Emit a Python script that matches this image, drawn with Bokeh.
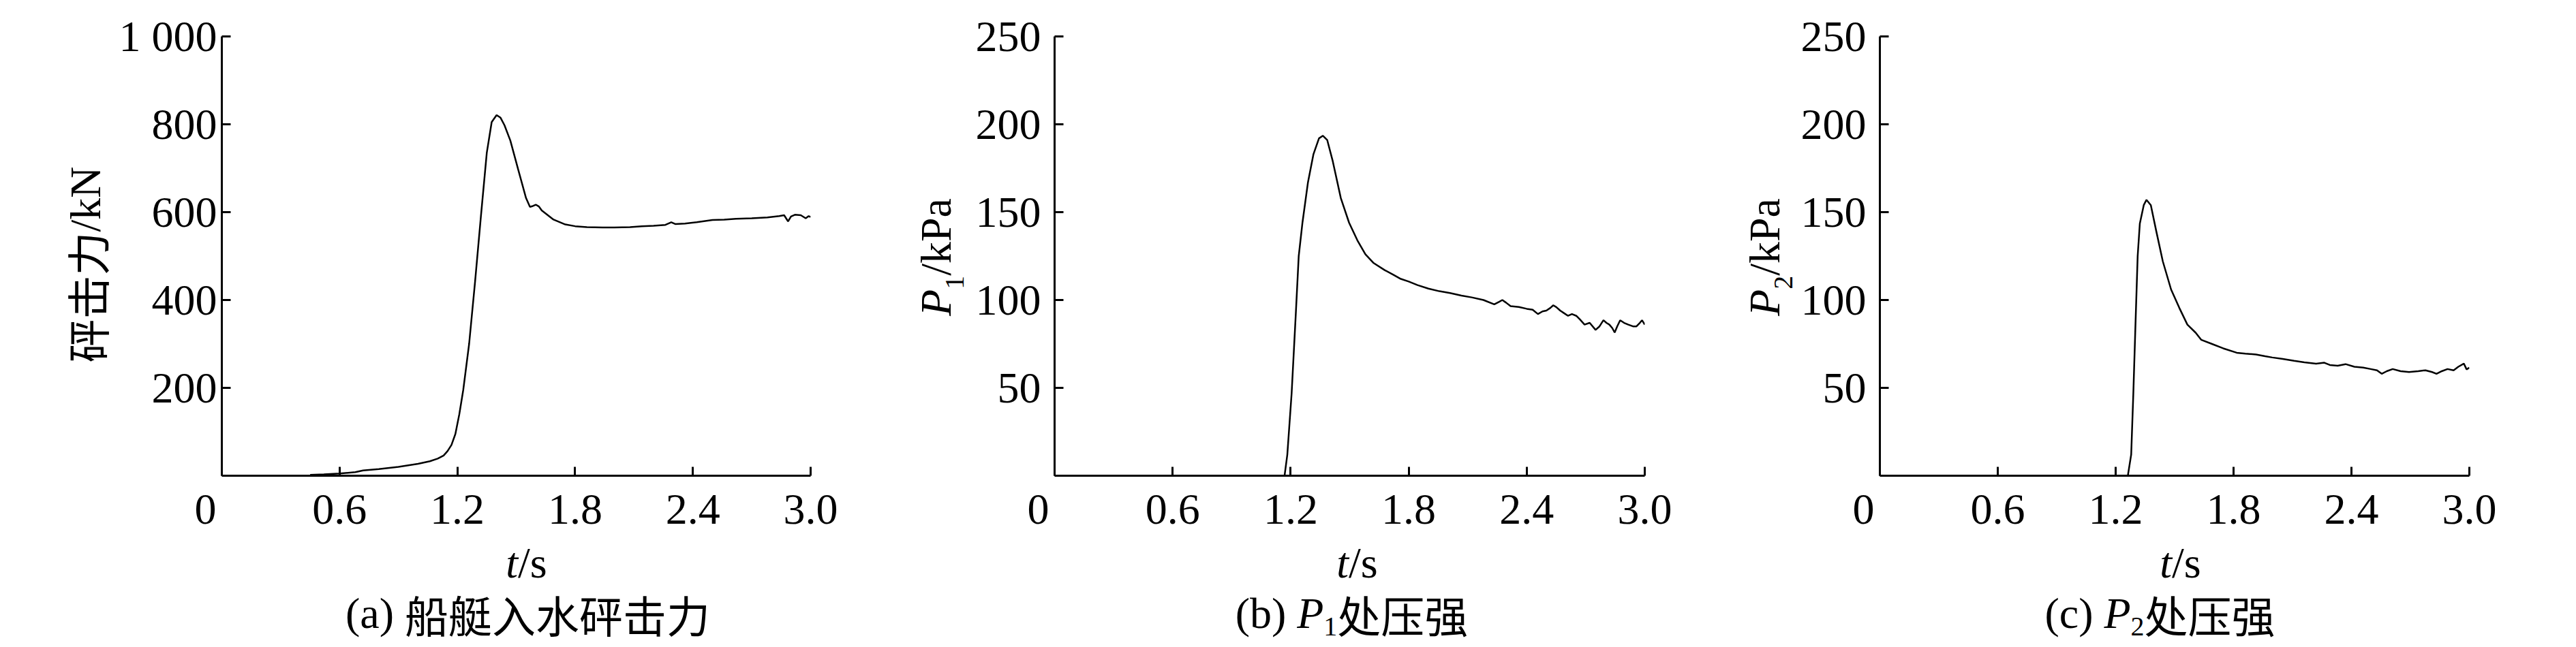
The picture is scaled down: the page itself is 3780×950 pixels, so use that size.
import math
from bokeh.plotting import figure
from bokeh.layouts import row, column
from bokeh.models import Range1d, FixedTicker
from bokeh.core.properties import value
from bokeh.embed import file_html
from bokeh.resources import INLINE

# ---------------- data ----------------
t_a = [0.45, 0.52, 0.60, 0.68, 0.72, 0.80, 0.90, 1.00, 1.06, 1.10,
       1.13, 1.15, 1.17, 1.19, 1.21, 1.23, 1.26, 1.29, 1.32, 1.35,
       1.375, 1.40, 1.42, 1.44, 1.47, 1.51, 1.55, 1.57, 1.585, 1.60,
       1.615, 1.63, 1.65, 1.69, 1.75, 1.80, 1.86, 1.94, 2.00, 2.08,
       2.14, 2.20, 2.26, 2.29, 2.31, 2.36, 2.42, 2.50, 2.56, 2.62,
       2.70, 2.78, 2.84, 2.865, 2.885, 2.90, 2.92, 2.95, 2.975, 2.99, 3.00]
force_a = [2, 3, 5, 8, 12, 15, 20, 27, 33, 39,
           46, 56, 70, 95, 140, 195, 300, 440, 590, 735,
           805, 821, 815, 798, 763, 697, 632, 612, 614, 617,
           613, 604, 597, 583, 572, 568, 566, 565, 565, 566,
           568, 569, 571, 577, 573, 574, 577, 582, 583, 585,
           586, 588, 591, 593, 579, 590, 594, 593, 586, 591, 589]

t_b = [1.169, 1.183, 1.205, 1.227, 1.241, 1.26, 1.288, 1.316, 1.344, 1.364,
       1.386, 1.414, 1.455, 1.497, 1.539, 1.58, 1.622, 1.678, 1.72, 1.76,
       1.80, 1.845, 1.90, 1.956, 2.01, 2.068, 2.12, 2.18, 2.235, 2.26,
       2.276, 2.295, 2.318, 2.36, 2.40, 2.43, 2.457, 2.48, 2.5, 2.52,
       2.535, 2.55, 2.57, 2.59, 2.61, 2.63, 2.652, 2.67, 2.694, 2.72,
       2.75, 2.77, 2.79, 2.805, 2.82, 2.835, 2.847, 2.86, 2.875, 2.895,
       2.916, 2.94, 2.958, 2.975, 2.986, 3.0]
p1 = [0, 12, 47, 94, 125, 144, 167, 183, 192, 193.5,
      191, 179, 158, 144, 134, 126, 121, 117, 114.5, 112,
      110.5, 108.5, 106.5, 105, 104, 102.5, 101.5, 100, 97.5, 99,
      100, 98.5, 96.5, 96, 95, 94.5, 92, 93.5, 94, 95.5,
      97, 96, 94, 92.5, 91, 92, 91, 89, 86, 87,
      83, 85, 88.5, 87, 86, 84, 81.5, 85, 88.5, 87,
      86, 85, 85, 87, 88.5, 86]

t_c = [1.262, 1.279, 1.29, 1.30, 1.312, 1.323, 1.343, 1.357, 1.379, 1.407,
       1.44, 1.482, 1.524, 1.565, 1.607, 1.635, 1.69, 1.747, 1.816, 1.86,
       1.914, 1.96, 1.997, 2.05, 2.108, 2.16, 2.22, 2.262, 2.29, 2.33,
       2.37, 2.415, 2.46, 2.498, 2.53, 2.554, 2.58, 2.61, 2.65, 2.693,
       2.74, 2.777, 2.81, 2.833, 2.86, 2.889, 2.92, 2.944, 2.972, 2.986, 3.0]
p2 = [0, 12, 47, 83, 125, 143.5, 154, 157, 154, 139,
      122, 106, 95.5, 86, 81.4, 77.4, 75, 72.5, 70, 69.5,
      69, 68, 67.3, 66.5, 65.4, 64.5, 63.8, 64.3, 63, 62.6,
      63.5, 62, 61.5, 60.7, 60, 58, 59.5, 60.7, 59.5, 59,
      59.5, 60, 59, 58, 59.5, 60.7, 60, 62, 63.8, 60.5, 61.5]

x_ticks = [0, 0.6, 1.2, 1.8, 2.4, 3]
x_tick_labels = ["0\u00a0\u00a0\u00a0", "0.6", "1.2", "1.8", "2.4", "3.0"]
ya_ticks = [200, 400, 600, 800, 1000]
ya_tick_labels = ["200", "400", "600", "800", "1 000"]
yp_ticks = [50, 100, 150, 200, 250]
yp_tick_labels = ["50", "100", "150", "200", "250"]

# ---------------- style ----------------
SERIF = "Liberation Serif"
CJK = "Noto Sans CJK SC"
FS = 64
SUB = 40
FRAME_H = 645
TOP = 53
MAIN_H = 786
BOT_H = 162
COMP = 0.31   # renderer places the alphabetic baseline ~0.31 em lower

W_REG = {'(': 0.333, ')': 0.333, 'a': 0.444, 'b': 0.5, 'c': 0.444, ' ': 0.25,
         '/': 0.278, 'k': 0.5, 'N': 0.722, 'P': 0.556, 's': 0.389, '1': 0.5, '2': 0.5}
W_IT = {'P': 0.611, 't': 0.278}


def text_width(txt, font, size, style):
    if font == CJK:
        return len(txt) * size
    tab = W_IT if style == "italic" else W_REG
    return sum(tab.get(ch, 0.5) for ch in txt) * size


def canvas(w, h):
    f = figure(width=w, height=h, x_range=Range1d(0, w), y_range=Range1d(0, h),
               x_axis_type=None, y_axis_type=None, output_backend="svg",
               toolbar_location=None, min_border=0, frame_align=False)
    f.outline_line_color = None
    f.grid.visible = False
    f.background_fill_color = "white"
    f.border_fill_color = "white"
    return f


def compose(f, pieces, cx, cy, vertical=False):
    """pieces: (text, font, size, style, baseline shift downwards); (cx, cy) is
    the wanted baseline point at the centre of the whole string."""
    total = sum(text_width(t, fo, s, st) for t, fo, s, st, _ in pieces)
    pos = (cy if vertical else cx) - total / 2
    for t, fo, s, st, sh in pieces:
        c = COMP * s
        if vertical:
            f.text(x=[cx + sh - c], y=[pos], text=[t], angle=math.pi / 2,
                   text_align="left", text_baseline="alphabetic",
                   text_font=value(fo), text_font_size=f"{s}px",
                   text_font_style=st, text_color="black")
        else:
            f.text(x=[pos], y=[cy - sh + c], text=[t],
                   text_align="left", text_baseline="alphabetic",
                   text_font=value(fo), text_font_size=f"{s}px",
                   text_font_style=st, text_color="black")
        pos += text_width(t, fo, s, st)


def make_panel(xs, ys, ymax, yticks, ylabels, left, frame_w, right, ystandoff):
    p = figure(width=left + frame_w + right, height=MAIN_H,
               x_range=Range1d(0, 3), y_range=Range1d(0, ymax),
               output_backend="svg", toolbar_location=None, frame_align=False,
               min_border_left=left, min_border_right=right,
               min_border_top=TOP, min_border_bottom=MAIN_H - TOP - FRAME_H)
    p.outline_line_color = None
    p.grid.visible = False
    p.background_fill_color = "white"
    p.border_fill_color = "white"
    p.line(xs, ys, line_color="black", line_width=2.5)

    for ax in (p.xaxis[0], p.yaxis[0]):
        ax.axis_line_width = 3
        ax.axis_line_color = "black"
        ax.major_tick_line_width = 3
        ax.major_tick_line_color = "black"
        ax.major_tick_in = 13
        ax.major_tick_out = 0
        ax.minor_tick_line_color = None
        ax.major_label_text_font = SERIF
        ax.major_label_text_font_size = f"{FS}px"
        ax.major_label_text_color = "black"

    p.xaxis.ticker = FixedTicker(ticks=x_ticks)
    p.xaxis.major_label_overrides = dict(zip(x_ticks, x_tick_labels))
    p.xaxis.major_label_standoff = 13
    p.yaxis.ticker = FixedTicker(ticks=yticks)
    p.yaxis.major_label_overrides = dict(zip(yticks, ylabels))
    p.yaxis.major_label_standoff = ystandoff
    return p


def xy_bottom(page_x0, page_x, page_baseline):
    return page_x - page_x0, BOT_H - (page_baseline - MAIN_H)


CAP_BASE = 920
XT_BASE = 846

# ---------------- panel (a) : page x 0 .. 1233 ----------------
X0_A = 0
YL_A = 171
main_a = make_panel(t_a, force_a, 1000, ya_ticks, ya_tick_labels, 322 - YL_A, 867, 44, 7)
ylab_a = canvas(YL_A, MAIN_H)
compose(ylab_a, [("砰击力", CJK, FS, "normal", 0), ("/kN", SERIF, FS, "normal", 0)],
        145, MAIN_H - 388, vertical=True)
W_A = 322 + 867 + 44
bot_a = canvas(W_A, BOT_H)
compose(bot_a, [("t", SERIF, FS, "italic", 0), ("/s", SERIF, FS, "normal", 0)],
        *xy_bottom(X0_A, 772, XT_BASE))
compose(bot_a, [("(a) ", SERIF, FS, "normal", 0), ("船艇入水砰击力", CJK, FS, "normal", 0)],
        *xy_bottom(X0_A, 774, CAP_BASE))

# ---------------- panel (b) : page x 1233 .. 2457 ----------------
X0_B = W_A
YL_B = 192
main_b = make_panel(t_b, p1, 250, yp_ticks, yp_tick_labels, 1547 - X0_B - YL_B, 866, 44, 20)
ylab_b = canvas(YL_B, MAIN_H)
compose(ylab_b, [("P", SERIF, FS, "italic", 0), ("1", SERIF, SUB, "normal", 20),
                 ("/kPa", SERIF, FS, "normal", 0)], 1393 - X0_B, MAIN_H - 377, vertical=True)
W_B = (1547 - X0_B) + 866 + 44
bot_b = canvas(W_B, BOT_H)
compose(bot_b, [("t", SERIF, FS, "italic", 0), ("/s", SERIF, FS, "normal", 0)],
        *xy_bottom(X0_B, 1991, XT_BASE))
compose(bot_b, [("(b) ", SERIF, FS, "normal", 0), ("P", SERIF, FS, "italic", 0),
                ("1", SERIF, SUB, "normal", 12), ("处压强", CJK, FS, "normal", 0)],
        *xy_bottom(X0_B, 1983, CAP_BASE))

# ---------------- panel (c) : page x 2457 .. 3675 ----------------
X0_C = X0_B + W_B
YL_C = 182
main_c = make_panel(t_c, p2, 250, yp_ticks, yp_tick_labels, 2757 - X0_C - YL_C, 866, 52, 20)
ylab_c = canvas(YL_C, MAIN_H)
compose(ylab_c, [("P", SERIF, FS, "italic", 0), ("2", SERIF, SUB, "normal", 20),
                 ("/kPa", SERIF, FS, "normal", 0)], 2609 - X0_C, MAIN_H - 377, vertical=True)
W_C = (2757 - X0_C) + 866 + 52
bot_c = canvas(W_C, BOT_H)
compose(bot_c, [("t", SERIF, FS, "italic", 0), ("/s", SERIF, FS, "normal", 0)],
        *xy_bottom(X0_C, 3199, XT_BASE))
compose(bot_c, [("(c) ", SERIF, FS, "normal", 0), ("P", SERIF, FS, "italic", 0),
                ("2", SERIF, SUB, "normal", 12), ("处压强", CJK, FS, "normal", 0)],
        *xy_bottom(X0_C, 3169, CAP_BASE))

layout = row(
    column(row(ylab_a, main_a), bot_a),
    column(row(ylab_b, main_b), bot_b),
    column(row(ylab_c, main_c), bot_c),
)
open("out.html", "w").write(file_html(layout, INLINE))
